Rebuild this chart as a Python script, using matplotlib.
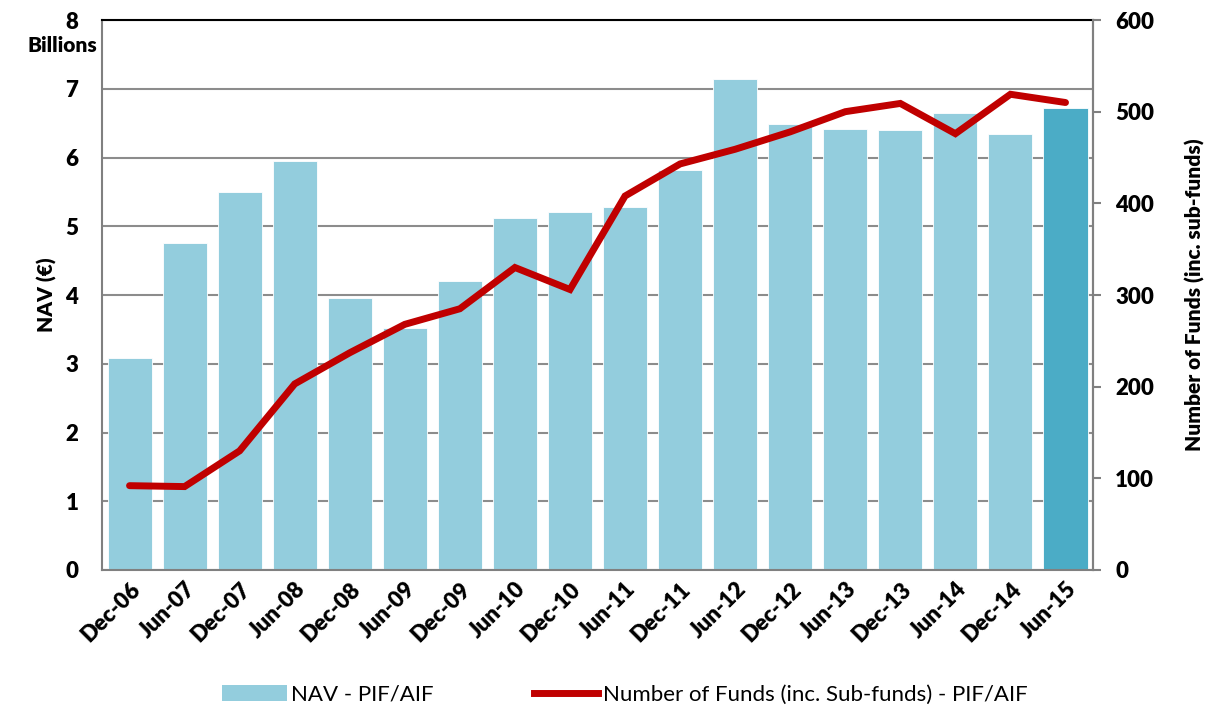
import matplotlib
matplotlib.use("Agg")
import matplotlib.pyplot as plt
import numpy as np
from matplotlib.patches import Patch
from matplotlib.lines import Line2D

categories = ["Dec-06", "Jun-07", "Dec-07", "Jun-08", "Dec-08", "Jun-09", "Dec-09", "Jun-10",
              "Dec-10", "Jun-11", "Dec-11", "Jun-12", "Dec-12", "Jun-13", "Dec-13", "Jun-14",
              "Dec-14", "Jun-15"]
nav_billions = [3.08, 4.76, 5.50, 5.95, 3.96, 3.52, 4.21, 5.12, 5.21, 5.28, 5.82, 7.14,
                6.49, 6.41, 6.40, 6.65, 6.34, 6.72]
num_funds = [92, 91, 130, 203, 237, 268, 285, 330, 306, 408, 443, 459, 478, 500, 509, 476, 519, 510]

plt.rcParams['font.family'] = ['Lato', 'DejaVu Sans']

fig = plt.figure(figsize=(12.13, 7.15), dpi=100)
ax = fig.add_axes([0.0841, 0.2028, 0.8170, 0.7692])
x = np.arange(len(categories))
colors = ['#93CDDD'] * (len(categories) - 1) + ['#4BACC6']
ax.bar(x, nav_billions, width=0.8, color=colors, edgecolor='white', linewidth=0.6, zorder=2)
ax.set_xlim(-0.5, len(categories) - 0.5)
ax.set_ylim(0, 8)
ax.set_yticks(range(0, 9))
ax.yaxis.grid(True, color='#8c8c8c', linewidth=1.5, zorder=0)
ax.set_axisbelow(True)
ax.tick_params(axis='y', length=0, labelsize=16, pad=17)
ax.tick_params(axis='x', length=0, labelsize=16, pad=6)
for lab in ax.get_yticklabels():
    lab.set_fontweight('heavy')
ax.set_xticks(x)
ax.set_xticklabels(categories, rotation=45, ha='right', rotation_mode='anchor', fontweight='heavy')
for s in ['left', 'bottom', 'right']:
    ax.spines[s].set_color('#808080')
    ax.spines[s].set_linewidth(1.5)
ax.spines['top'].set_color('black')
ax.spines['top'].set_linewidth(1.5)
ax.set_ylabel("NAV (€)", fontsize=15, fontweight='heavy', labelpad=6)
fig.text(0.0225, 0.937, "Billions", fontsize=15, fontweight='heavy', ha='left', va='center')

ax2 = ax.twinx()
ax2.plot(x, num_funds, color='#C00000', linewidth=5, solid_capstyle='round', solid_joinstyle='miter', zorder=3)
ax2.set_ylim(0, 600)
ax2.set_yticks(range(0, 601, 100))
ax2.tick_params(axis='y', length=6, width=1.5, color='#808080', labelsize=16, pad=10)
for lab in ax2.get_yticklabels():
    lab.set_fontweight('heavy')
for s in ['left', 'bottom', 'top']:
    ax2.spines[s].set_visible(False)
ax2.spines['right'].set_color('#808080')
ax2.spines['right'].set_linewidth(1.5)
ax2.set_ylabel("Number of Funds (inc. sub-funds)", fontsize=15, fontweight='heavy', labelpad=22)

handles = [Patch(facecolor='#93CDDD', label='NAV - PIF/AIF'),
           Line2D([0], [0], color='#C00000', linewidth=5, label='Number of Funds (inc. Sub-funds) - PIF/AIF')]
fig.legend(handles=handles, loc='center', bbox_to_anchor=(0.515, 0.028), ncol=2, frameon=False,
           fontsize=16, handlelength=2.9, columnspacing=4.5, handletextpad=0.2)

fig.savefig("out.png", dpi=100)
